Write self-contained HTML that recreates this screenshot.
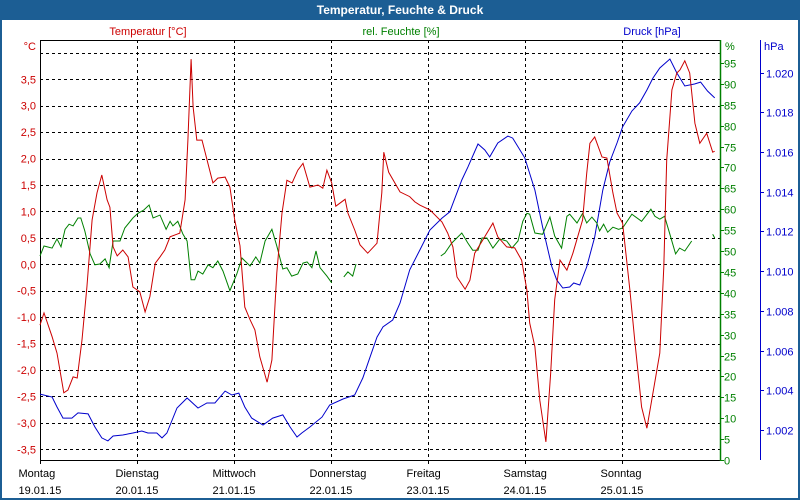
<!DOCTYPE html>
<html><head><meta charset="utf-8"><style>
html,body{margin:0;padding:0;background:#fff;}
#wrap{width:800px;height:500px;position:relative;overflow:hidden;font-family:"Liberation Sans",sans-serif;}
svg text{font-family:"Liberation Sans",sans-serif;font-size:11px;}
</style></head><body>
<div id="wrap">
<svg id="chart" width="800" height="500" xmlns="http://www.w3.org/2000/svg">
<rect x="0" y="0" width="800" height="500" fill="#fff" stroke="#1c5e94" stroke-width="4"/>
<rect x="0" y="0" width="800" height="20" fill="#1c5e94"/>
<text x="400" y="14" text-anchor="middle" fill="#fff" style="font-weight:bold;font-size:12px">Temperatur, Feuchte &amp; Druck</text>
<text x="148" y="35" text-anchor="middle" fill="#cc0000">Temperatur [°C]</text>
<text x="401" y="35" text-anchor="middle" fill="#008000">rel. Feuchte [%]</text>
<text x="652" y="35" text-anchor="middle" fill="#0000cc">Druck [hPa]</text>
<text x="36" y="50" text-anchor="end" fill="#cc0000">°C</text>
<text x="725" y="50" fill="#008000">%</text>
<text x="764" y="50" fill="#0000cc">hPa</text>
<g id="grid"></g>
<g id="axes"></g>
<g id="series"></g>
</svg>
</div>
<script>
// ---- data ----
const dayNames = ["Montag","Dienstag","Mittwoch","Donnerstag","Freitag","Samstag","Sonntag"];
const dayDates = ["19.01.15","20.01.15","21.01.15","22.01.15","23.01.15","24.01.15","25.01.15"];
const tempTicks = [3.5,3.0,2.5,2.0,1.5,1.0,0.5,0.0,-0.5,-1.0,-1.5,-2.0,-2.5,-3.0,-3.5];
const tempGrid = [4.0,3.5,3.0,2.5,2.0,1.5,1.0,0.5,0.0,-0.5,-1.0,-1.5,-2.0,-2.5,-3.0,-3.5];
const humTicks = [0,5,10,15,20,25,30,35,40,45,50,55,60,65,70,75,80,85,90,95];
const presTicks = [1002,1004,1006,1008,1010,1012,1014,1016,1018,1020];

const tempHours = [0,1,3,4.2,5.9,6.9,8.2,9.2,10.4,11.6,12.9,14.1,15.3,16.6,17.3,18.1,19.1,20.5,21.8,23.0,24.7,26.0,27.2,28.5,29.7,30.9,32.2,33.9,34.6,35.9,36.6,37.4,37.9,38.8,40.1,42.8,44.0,45.8,47.0,48.2,49.5,50.7,52.0,53.2,54.4,56.2,57.4,58.6,59.9,61.1,62.4,63.8,65.1,66.8,68.8,70.0,71.0,72.2,73.2,75.5,76.2,77.9,79.2,81.1,83.4,84.6,85.1,86.3,89.1,91.5,92.8,94.0,96.5,99.5,100.9,102.2,103.2,105.2,106.4,107.6,109.6,112.1,113.3,115.5,117.5,119.2,120.5,121.2,122.5,123.7,125.2,126.4,127.4,128.7,130.4,131.9,134.3,135.3,136.1,137.3,139.1,140.3,141.8,142.8,144.2,146.0,147.2,148.9,150.2,151.4,153.4,154.4,155.1,156.4,157.6,158.4,159.6,160.8,162.1,163.3,165.0,166.5,167.0];
const tempValues = [-1.15,-0.92,-1.37,-1.68,-2.43,-2.38,-2.13,-2.15,-1.43,-0.43,0.84,1.35,1.69,1.22,1.08,0.33,0.16,0.27,0.14,-0.43,-0.52,-0.90,-0.61,0.02,0.14,0.27,0.52,0.57,0.59,1.22,2.35,3.88,2.98,2.35,2.35,1.54,1.63,1.65,1.46,0.84,0.35,-0.81,-1.05,-1.24,-1.75,-2.23,-1.81,-0.16,0.97,1.59,1.54,1.78,1.91,1.46,1.50,1.44,1.78,1.54,1.10,1.23,0.97,0.65,0.37,0.21,0.40,1.35,2.12,1.74,1.37,1.28,1.18,1.12,1.03,0.80,0.59,0.33,-0.24,-0.47,-0.30,0.21,0.46,0.78,0.52,0.33,0.31,0.08,-0.49,-1.11,-1.56,-2.57,-3.36,-2.05,-0.67,0.08,-0.11,0.21,0.84,1.72,2.29,2.41,2.03,2.01,1.35,0.97,0.78,-0.49,-1.43,-2.70,-3.10,-2.57,-1.68,-0.05,1.97,3.30,3.62,3.68,3.85,3.62,2.67,2.29,2.48,2.12,2.14];

const humHours = [0,1.0,3.0,4.2,5.2,6.2,7.2,8.2,9.4,10.1,11.1,12.4,13.6,14.8,16.1,17.1,18.1,19.8,21.0,23.0,24.2,25.7,27.0,28.0,29.7,31.2,32.2,32.9,34.1,35.4,36.4,37.4,38.3,39.1,40.3,41.6,42.8,44.0,45.3,47.0,48.7,50.0,52.0,53.4,54.4,55.7,57.4,58.6,60.1,61.1,62.3,63.8,65.1,66.1,67.3,68.3,69.3,71.0,72.2,null,75.2,76.2,77.4,78.2,null,99.2,100.2,101.9,104.4,105.9,107.1,108.4,109.4,110.6,112.1,113.8,115.5,116.8,118.3,119.5,120.5,121.2,122.5,124.4,126.2,127.4,129.1,130.4,131.1,132.9,134.3,135.3,136.6,137.8,138.5,139.5,140.5,141.8,143.2,144.2,146.5,148.9,151.2,152.2,153.4,154.6,155.9,157.3,158.3,159.6,161.3,null,166.5,167.0];
const humValues = [48.8,51.2,50.7,52.9,51.0,55.2,56.4,56.0,57.9,57.9,54.8,49.3,46.7,46.9,48.1,46.0,52.4,52.4,55.5,57.9,59.0,59.8,61.0,57.9,58.6,55.2,57.1,56.0,57.1,54.0,52.4,43.1,43.1,45.2,44.5,46.7,46.0,47.6,45.2,40.5,44.5,48.3,46.4,48.6,47.1,52.4,55.2,51.2,45.7,46.0,44.0,44.5,47.1,47.4,46.0,50.0,46.0,44.0,42.4,null,43.8,45.0,44.0,46.9,null,48.8,49.5,51.9,54.3,51.9,50.2,50.2,53.1,53.1,50.7,52.9,52.4,50.7,52.4,57.1,59.0,58.8,54.3,54.0,58.1,53.6,50.7,58.3,58.8,56.7,59.0,56.7,58.1,56.7,54.8,56.4,54.5,55.7,55.2,55.5,58.8,57.1,60.0,58.3,57.6,58.3,54.0,49.3,50.7,50.0,52.4,null,54.0,53.1];

const presHours = [0,3.0,4.2,5.7,7.9,9.4,11.9,13.6,15.3,16.8,18.1,20.5,23.0,25.2,26.7,28.9,30.2,31.4,33.9,36.4,39.1,41.3,43.3,45.8,47.5,49.2,50.7,52.4,55.2,57.6,60.1,61.9,63.6,64.8,66.8,69.8,71.7,75.0,77.9,79.9,81.6,83.4,84.9,87.3,89.1,91.5,94.0,96.5,99.5,101.4,104.4,105.9,108.4,110.1,111.3,113.3,115.8,117.0,120.0,122.5,124.4,126.7,127.9,129.4,131.1,132.1,133.6,135.3,137.3,139.3,141.0,142.8,144.2,146.5,148.4,150.2,151.7,153.4,155.9,157.6,159.6,162.0,163.5,165.2,167.0];
const presValues = [1003.81,1003.66,1003.16,1002.60,1002.60,1002.86,1002.81,1002.15,1001.60,1001.45,1001.70,1001.75,1001.85,1001.95,1001.85,1001.85,1001.60,1001.85,1003.11,1003.61,1003.11,1003.36,1003.36,1003.96,1003.76,1003.86,1003.16,1002.60,1002.25,1002.60,1002.76,1002.15,1001.65,1001.85,1002.15,1002.65,1003.26,1003.56,1003.76,1004.62,1005.62,1006.68,1007.19,1007.54,1008.39,1010.06,1011.06,1012.07,1012.67,1012.98,1014.59,1015.24,1016.40,1016.10,1015.75,1016.45,1016.80,1016.70,1015.70,1014.08,1012.22,1010.21,1009.55,1009.15,1009.20,1009.40,1009.30,1010.21,1011.72,1014.08,1015.49,1016.45,1017.26,1018.06,1018.47,1019.12,1019.72,1020.23,1020.68,1019.98,1019.32,1019.42,1019.52,1019.07,1018.72];

// ---- scales ----
const PL=40, PR=720, PT=40, PB=460, HOURS=168.3;
function xH(h){ return PL + h/HOURS*(PR-PL); }
function yT(t){ return 79.3 + (3.5-t)*52.86; }
function yHum(h){ return 460 - h*4.18; }
function yP(p){ return 430 - (p-1002)*19.86; }

const NS="http://www.w3.org/2000/svg";
function mk(tag, attrs, parent){ const e=document.createElementNS(NS,tag); for(const k in attrs) e.setAttribute(k,attrs[k]); parent.appendChild(e); return e; }
const grid=document.getElementById('grid'), axes=document.getElementById('axes'), series=document.getElementById('series');

tempGrid.forEach(t=>{
  const y=Math.round(yT(t))+0.5;
  const l=mk('line',{x1:PL,x2:PR,y1:y,y2:y,stroke:'#000','stroke-dasharray':'3,3','shape-rendering':'crispEdges'},grid);
  
  
});
dayNames.forEach((d,i)=>{
  const x=Math.round(xH(i*24))+0.5;
  if(i>0){
    const l=mk('line',{x1:x,x2:x,y1:PT,y2:PB,stroke:'#000','stroke-dasharray':'3,3','shape-rendering':'crispEdges'},grid);
    
    
  }
  const t1=mk('text',{x:x-22,y:477,fill:'#000'},axes); t1.textContent=d;
  
  
  const t2=mk('text',{x:x-22,y:494,fill:'#000'},axes); t2.textContent=dayDates[i];
  
  
  const tk=mk('line',{x1:x,x2:x,y1:PB,y2:PB+4,stroke:'#000'},axes);
  
  
});
let a;
a=mk('line',{x1:PL+0.5,x2:PL+0.5,y1:PT,y2:PB+4,stroke:'#000'},axes);
 
a=mk('line',{x1:PL,x2:PR,y1:PT+0.5,y2:PT+0.5,stroke:'#000'},axes);
 
a=mk('line',{x1:PL,x2:PR,y1:PB+0.5,y2:PB+0.5,stroke:'#000'},axes);
 
a=mk('line',{x1:PR+0.5,x2:PR+0.5,y1:PT,y2:PB+1,stroke:'#008000',"stroke-width":1.5},axes);
 
a=mk('line',{x1:760.5,x2:760.5,y1:PT,y2:PB,stroke:'#0000cc'},axes);
 

tempTicks.forEach(t=>{
  const y=yT(t);
  const tx=mk('text',{x:36,y:y+4,'text-anchor':'end',fill:'#cc0000'},axes);
  tx.textContent=t.toFixed(1).replace('.',',');
  
  
});
humTicks.forEach(h=>{
  const y=Math.round(yHum(h))+0.5;
  const tk=mk('line',{x1:PR,x2:PR+4,y1:y,y2:y,stroke:'#008000'},axes);
  
  
  const tx=mk('text',{x:724,y:y+4,fill:'#008000'},axes);
  tx.textContent=String(h);
  
  
});
presTicks.forEach(p=>{
  const y=Math.round(yP(p))+0.5;
  const tk=mk('line',{x1:760,x2:764,y1:y,y2:y,stroke:'#0000cc'},axes);
  
  
  const tx=mk('text',{x:766,y:y+4,fill:'#0000cc'},axes);
  tx.textContent=(p/1000).toFixed(3);
  
  
});

function pathFrom(hours, vals, yf){
  let d='', pen=false;
  const n=Math.min(hours.length, vals.length);
  for(let i=0;i<n;i++){
    if(hours[i]===null||vals[i]===null){pen=false;continue;}
    d+=(pen?'L':'M')+xH(hours[i]).toFixed(1)+','+yf(vals[i]).toFixed(1);
    pen=true;
  }
  return d;
}
let p;
p=mk('path',{d:pathFrom(presHours,presValues,yP),fill:'none',stroke:'#0000cc','stroke-width':1},series);
 
p=mk('path',{d:pathFrom(humHours,humValues,yHum),fill:'none',stroke:'#008000','stroke-width':1},series);
 
p=mk('path',{d:pathFrom(tempHours,tempValues,yT),fill:'none',stroke:'#cc0000','stroke-width':1},series);
 
</script>
</body></html>
